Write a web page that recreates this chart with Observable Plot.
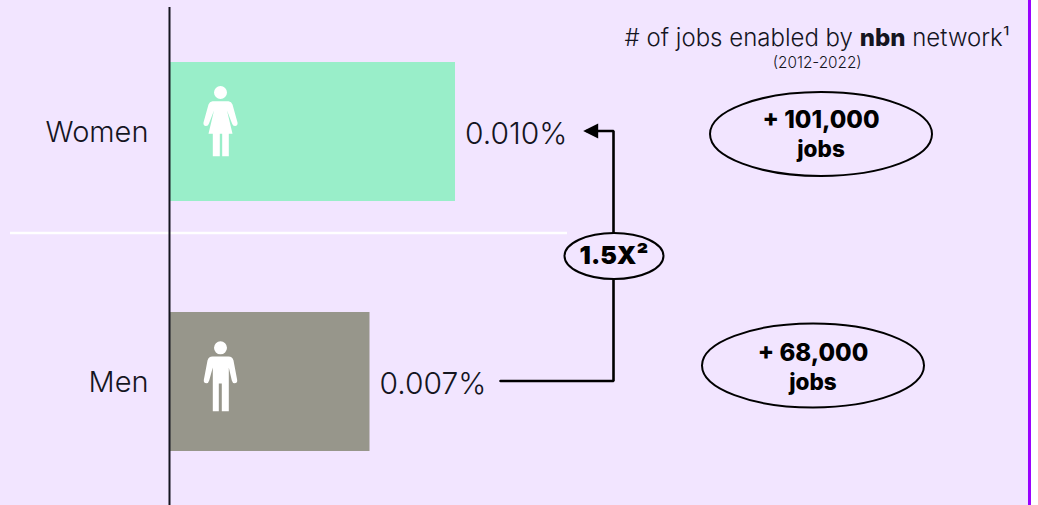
<!DOCTYPE html>
<html><head><meta charset="utf-8">
<script src="https://cdn.jsdelivr.net/npm/d3@7"></script>
<script src="https://cdn.jsdelivr.net/npm/@observablehq/plot@0.6"></script>
<style>
html,body{margin:0;padding:0;background:#fff}
svg{display:block}
</style></head><body><div id="chart"></div>
<script>
const groups = ["Women", "Men"];
const shares = [0.010, 0.007];
const shareLabels = ["0.010%", "0.007%"];
const jobsLabels = ["+ 101,000", "+ 68,000"];
const jobsX = [0.022825, 0.022544];
const jobsUnit = "jobs";
const headerLine = "# of jobs enabled by nbn network¹";
const headerSub = "(2012-2022)";
const headerX = 0.022691;
const connectorX = [0.01158, 0.015544, 0.015544, 0.0146];
const connectorY = ["Men", "Men", "Women", "Women"];
const multiplierX = 0.015561;
const multiplierLabel = "1.5X²";
const tipX = 0.01448;
const dividerX = [-0.005614, 0.013930];
const edgeX = 0.030140;

const FONT = "Inter, 'Liberation Sans', sans-serif";
const BG = "#f2e5ff", GREEN = "#99eec9", GREY = "#97968b", INK = "#15151f", PURPLE = "#9900ff";

const ellipseSymbol = (aspect) => ({draw(c, size) {
  const rx = Math.sqrt(size / Math.PI), ry = rx * aspect, k = 0.5523;
  c.moveTo(-rx, 0);
  c.bezierCurveTo(-rx, -ry * k, -rx * k, -ry, 0, -ry);
  c.bezierCurveTo(rx * k, -ry, rx, -ry * k, rx, 0);
  c.bezierCurveTo(rx, ry * k, rx * k, ry, 0, ry);
  c.bezierCurveTo(-rx * k, ry, -rx, ry * k, -rx, 0);
  c.closePath();
}});
const womanSymbol = {draw(c) {
  c.moveTo(6.5, -32); c.arc(0, -32, 6.5, 0, 2 * Math.PI); c.closePath();
  c.moveTo(-8, -23.3); c.lineTo(8, -23.3); c.quadraticCurveTo(11, -23, 12, -20);
  c.lineTo(17, -2); c.quadraticCurveTo(17.5, 1.2, 14.5, 1.5); c.quadraticCurveTo(12.3, 1.5, 11.5, -1);
  c.lineTo(6.5, -14); c.lineTo(12, 9.3); c.lineTo(8.3, 9.3); c.lineTo(8.3, 31.7); c.lineTo(1.7, 31.7);
  c.lineTo(1.7, 9.3); c.lineTo(-0.7, 9.3); c.lineTo(-0.7, 31.7); c.lineTo(-7.7, 31.7); c.lineTo(-7.7, 9.3);
  c.lineTo(-12, 9.3); c.lineTo(-6.5, -14); c.lineTo(-11.5, -1); c.quadraticCurveTo(-12.3, 1.5, -14.5, 1.5);
  c.quadraticCurveTo(-17.5, 1.2, -17, -2); c.lineTo(-12, -20); c.quadraticCurveTo(-11, -23, -8, -23.3);
  c.closePath();
}};
const manSymbol = {draw(c) {
  c.moveTo(6.5, -28.7); c.arc(0, -28.7, 6.5, 0, 2 * Math.PI); c.closePath();
  c.moveTo(-8, -20); c.lineTo(8, -20); c.quadraticCurveTo(12, -20, 13, -16);
  c.lineTo(16.7, 3.5); c.quadraticCurveTo(17, 6.7, 14, 6.7); c.quadraticCurveTo(12, 6.7, 11.3, 4);
  c.lineTo(8.3, -9); c.lineTo(8.3, 34.7); c.lineTo(1.3, 34.7); c.lineTo(1.3, 7); c.lineTo(-1.7, 7);
  c.lineTo(-1.7, 34.7); c.lineTo(-7.7, 34.7); c.lineTo(-7.7, -9); c.lineTo(-11.3, 4);
  c.quadraticCurveTo(-12, 6.7, -14, 6.7); c.quadraticCurveTo(-17, 6.7, -16.7, 3.5); c.lineTo(-13, -16);
  c.quadraticCurveTo(-12, -20, -8, -20); c.closePath();
}};
const tipSymbol = {draw(c) { c.moveTo(-7.5, 0); c.lineTo(7.5, -7.5); c.lineTo(7.5, 7.5); c.closePath(); }};

const rows = groups.map((group, i) => ({group, share: shares[i], label: shareLabels[i], jobs: jobsLabels[i], jobsX: jobsX[i]}));
const connector = connectorX.map((x, i) => ({x, y: connectorY[i]}));
const women = rows.filter((d) => d.group === "Women");
const men = rows.filter((d) => d.group === "Men");

const boldHeader = (index, scales, values, dims, ctx, next) => {
  const g = next(index, scales, values, dims, ctx);
  d3.select(g).selectAll("text").each(function() {
    const t = d3.select(this), [a, b] = t.text().split("nbn");
    t.text(null);
    t.append("tspan").text(a);
    t.append("tspan").attr("font-weight", 800).text("nbn");
    t.append("tspan").text(b);
  });
  return g;
};

const chart = Plot.plot({
  width: 1031, height: 505, marginLeft: 170, marginRight: 0, marginTop: 0, marginBottom: 0,
  style: {background: BG, fontFamily: FONT, color: INK},
  x: {domain: [0, 0.01], range: [170, 455], axis: null},
  y: {domain: groups, range: [6.5, 506.5], paddingInner: 0.444, paddingOuter: 0.222, round: false, axis: null},
  marks: [
    Plot.barX(rows, {x: "share", y: "group", fill: (d) => d.group === "Women" ? GREEN : GREY}),
    Plot.ruleY(["Women"], {x1: dividerX[0], x2: dividerX[1], dy: 101, stroke: "#ffffff", strokeWidth: 2.5}),
    Plot.ruleX([0], {stroke: INK, strokeWidth: 2, insetTop: 7, dx: -1}),
    Plot.ruleX([edgeX], {stroke: PURPLE, strokeWidth: 3}),
    Plot.axisY({anchor: "left", tickSize: 0, tickPadding: 22, label: null, fontSize: 29, fontWeight: 300, fill: INK, letterSpacing: 1.1, dy: 1}),
    Plot.dot(women, {x: 0, y: "group", dx: 50, dy: -7.5, symbol: womanSymbol, fill: "#fff", stroke: "none", r: 1}),
    Plot.dot(men, {x: 0, y: "group", dx: 50, dy: -5.5, symbol: manSymbol, fill: "#fff", stroke: "none", r: 1}),
    Plot.text(rows, {x: "share", y: "group", text: "label", textAnchor: "start", dx: 9.5, dy: 2.5, fontSize: 30, fontWeight: 300, fill: INK, letterSpacing: 1.9}),
    Plot.line(connector, {x: "x", y: "y", dy: -1, stroke: "#000", strokeWidth: 2.6, strokeLinejoin: "miter"}),
    Plot.dot(["Women"], {x: tipX, y: (d) => d, dx: 7.5, dy: -1, symbol: tipSymbol, fill: "#000", stroke: "none", r: 1}),
    Plot.dot(["Women"], {x: multiplierX, y: (d) => d, dy: 124, r: 49.5, symbol: ellipseSymbol(0.465), fill: BG, stroke: "#000", strokeWidth: 2}),
    Plot.text([multiplierLabel], {x: multiplierX, y: () => "Women", dy: 124, fontSize: 25, fontWeight: 900, fill: "#000"}),
    Plot.dot(women, {x: "jobsX", y: "group", dy: 2, r: 111, symbol: ellipseSymbol(0.378), fill: "none", stroke: "#000", strokeWidth: 2}),
    Plot.dot(men, {x: "jobsX", y: "group", dy: -16.5, r: 111, symbol: ellipseSymbol(0.378), fill: "none", stroke: "#000", strokeWidth: 2}),
    Plot.text(women, {x: "jobsX", y: "group", text: "jobs", dy: -11.5, fontSize: 24, fontWeight: 800, fill: "#000"}),
    Plot.text(women, {x: "jobsX", y: "group", text: () => jobsUnit, dy: 18, fontSize: 22.5, fontWeight: 800, fill: "#000"}),
    Plot.text(men, {x: "jobsX", y: "group", text: "jobs", dy: -28.5, fontSize: 24, fontWeight: 800, fill: "#000"}),
    Plot.text(men, {x: "jobsX", y: "group", text: () => jobsUnit, dy: 1, fontSize: 22.5, fontWeight: 800, fill: "#000"}),
    Plot.text([headerLine], {x: headerX, y: () => "Women", dy: -94, fontSize: 24, fontWeight: 300, letterSpacing: 0.5, fill: INK, render: boldHeader}),
    Plot.text([headerSub], {x: headerX, y: () => "Women", dy: -68.5, fontSize: 15.3, fontWeight: 300, fill: INK})
  ]
});
document.getElementById("chart").append(chart);
</script></body></html>
